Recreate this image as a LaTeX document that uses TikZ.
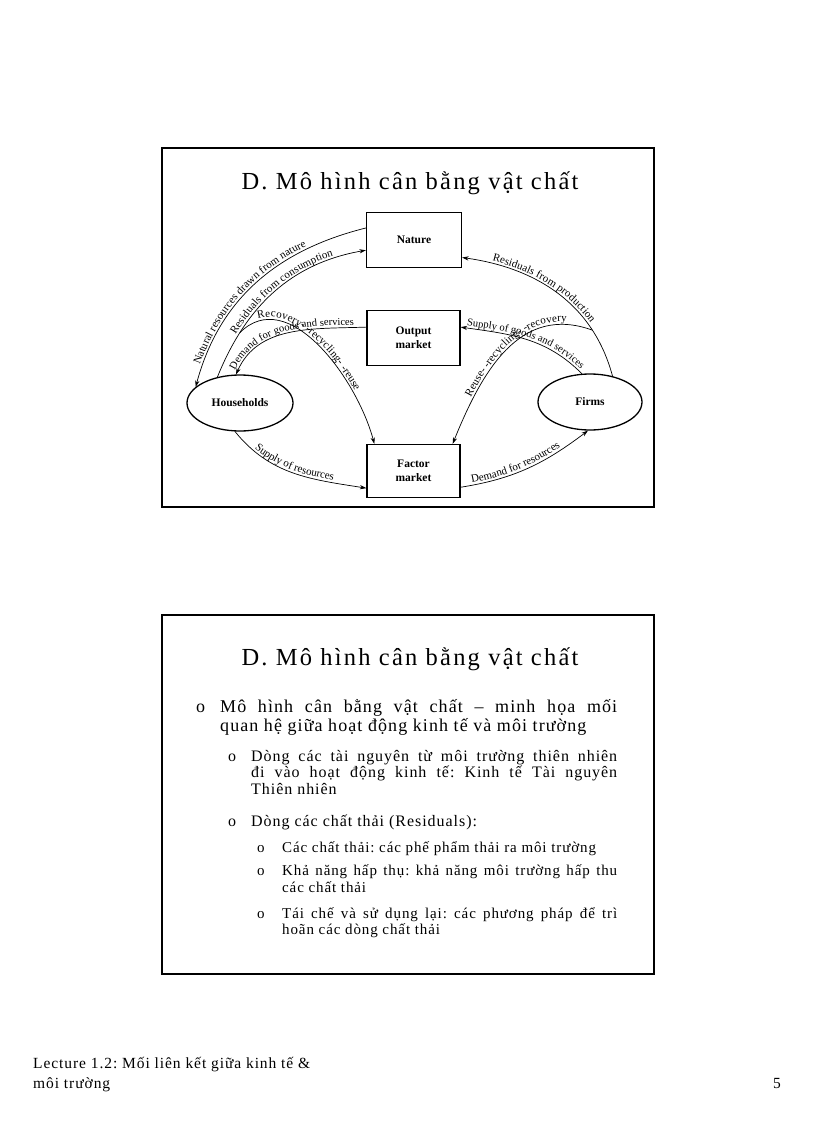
\documentclass[tikz,border=0pt]{standalone}
\usepackage{fontspec}
\setmainfont{Liberation Serif}
\usetikzlibrary{arrows.meta,shapes.geometric,decorations.text}
\newcommand\lblfont{\fontsize{11}{13}\selectfont}
\newcommand\lblsmall{\fontsize{10.5}{12}\selectfont}
\newcommand\titlefont{\fontsize{24.5}{28}\selectfont\addfontfeature{LetterSpace=9}}
\newcommand\lvA{\fontsize{18}{21}\selectfont\addfontfeature{LetterSpace=6}}
\newcommand\lvB{\fontsize{16}{19}\selectfont\addfontfeature{LetterSpace=6}}
\newcommand\lvC{\fontsize{15}{18}\selectfont\addfontfeature{LetterSpace=6}}
\newcommand\footfont{\fontsize{15.5}{18}\selectfont\addfontfeature{LetterSpace=6}}
\begin{document}
\frenchspacing
\begin{tikzpicture}[x=1pt,y=1pt,
  box/.style={draw, line width=1.3pt, minimum width=93pt, minimum height=55pt, inner sep=0pt, align=center, font=\fontsize{11.5}{14}\selectfont\bfseries},
  oval/.style={draw, line width=1.3pt, ellipse, minimum width=106pt, minimum height=56pt, inner sep=0pt, font=\fontsize{11.5}{14}\selectfont\bfseries},
  flow/.style={line width=0.7pt},
  tip/.tip={Stealth[length=6.5pt,width=4.2pt]},
  lbl/.style n args={3}{postaction={decorate}, decoration={text along path, text={|#1|#3}, text align={#2}, raise=2.5pt}},
  slide/.style={draw, line width=2pt},
  txt/.style={anchor=base west, inner sep=0pt},
]
\useasboundingbox (0,0) rectangle (816,-1123);
\fill[white] (0,0) rectangle (816,-1123);

% ---------- slide 1 ----------
\draw[slide] (161.5,-148) rectangle (653.5,-507);
\node[anchor=base, inner sep=0pt, font=\titlefont] (t1) at (410,-190) {D. Mô hình cân bằng vật chất};

\node[box, minimum width=95pt] (nature) at (414,-240) {Nature};
\node[box] (output) at (413.5,-338) {Output\\market};
\node[box, minimum height=53pt] (factor) at (413.5,-471) {Factor\\market};
\node[oval] (hh) at (240,-403) {Households};
\node[oval, minimum width=104pt] (firms) at (590,-402) {Firms};

% Natural resources drawn from nature
\draw[flow, tip-, lbl={\lblfont}{left, left indent=22pt}{Natural resources drawn from nature}]
  (hh.160) to[out=75, in=194] (nature.166);
% Residuals from consumption
\draw[flow, -tip, lbl={\lblfont}{left, left indent=46pt}{Residuals from consumption}]
  (hh.131) to[out=68, in=190] coordinate[pos=0.23] (rc) (nature.192);
% Demand for goods and services
\draw[flow, tip-, lbl={\lblsmall}{left, left indent=3pt}{Demand for goods and services}]
  (hh.98) to[out=66, in=182] (output.167);
% Recovery - recycling - reuse
\draw[flow, -tip, lbl={\lblfont}{left, left indent=22pt}{Recovery- -recycling- -reuse}]
  (rc) to[out=45, in=105] ([xshift=8pt]factor.north west);
% Residuals from production
\draw[flow, tip-, lbl={\lblfont}{left, left indent=30pt}{Residuals from production}]
  (nature.-20) to[out=-8, in=105] coordinate[pos=0.76] (rp) (firms.49);
% Supply of goods and services
\draw[flow, tip-, lbl={\lblsmall}{left, left indent=6pt}{Supply of goods and services}]
  (output.13) to[out=-8, in=135] (firms.106);
% Reuse - recycling - recovery
\draw[flow, tip-, lbl={\lblfont}{left, left indent=50pt}{Reuse- -recycling- -recovery}]
  ([xshift=-8pt]factor.north east) to[out=68, in=160, looseness=1.1] (rp);
% Supply of resources
\draw[flow, -tip, lbl={\lblfont}{left, left indent=26pt}{Supply of resources}]
  (hh.-100) to[out=-51, in=171] (factor.200);
% Demand for resources
\draw[flow, -tip, lbl={\lblfont}{left, left indent=12pt}{Demand for resources}]
  (factor.-19) to[out=9, in=217] (firms.-94);

% ---------- slide 2 ----------
\draw[slide] (161.5,-615) rectangle (653.5,-974);
\node[anchor=base, inner sep=0pt, font=\titlefont] (t2) at (410,-665) {D. Mô hình cân bằng vật chất};

\node[txt, font=\lvA] (b1) at (196,-712) {o};
\node[txt, font=\lvA] (l1a) at (220,-712) {\makebox[397pt][s]{Mô hình cân bằng vật chất – minh họa mối}};
\node[txt, font=\lvA] (l1b) at (220,-731) {quan hệ giữa hoạt động kinh tế và môi trường};

\node[txt, font=\lvB] (b2) at (228,-761) {o};
\node[txt, font=\lvB] (l2a) at (251,-761) {\makebox[366pt][s]{Dòng các tài nguyên từ môi trường thiên nhiên}};
\node[txt, font=\lvB] (l2b) at (251,-777) {\makebox[366pt][s]{đi vào hoạt động kinh tế: Kinh tế Tài nguyên}};
\node[txt, font=\lvB] (l2c) at (251,-794) {Thiên nhiên};

\node[txt, font=\lvB] (b3) at (228,-826) {o};
\node[txt, font=\lvB] (l3a) at (251,-826) {Dòng các chất thải (Residuals):};

\node[txt, font=\lvC] (b4) at (257,-852) {o};
\node[txt, font=\lvC] (l4a) at (282,-852) {Các chất thải: các phế phẩm thải ra môi trường};
\node[txt, font=\lvC] (b5) at (257,-875) {o};
\node[txt, font=\lvC] (l5a) at (282,-875) {\makebox[335pt][s]{Khả năng hấp thụ: khả năng môi trường hấp thu}};
\node[txt, font=\lvC] (l5b) at (282,-892) {các chất thải};
\node[txt, font=\lvC] (b6) at (257,-918) {o};
\node[txt, font=\lvC] (l6a) at (282,-918) {\makebox[335pt][s]{Tái chế và sử dụng lại: các phương pháp để trì}};
\node[txt, font=\lvC] (l6b) at (282,-934) {hoãn các dòng chất thải};

% ---------- footer ----------
\node[txt, font=\footfont] (f1) at (33,-1068) {Lecture 1.2: Mối liên kết giữa kinh tế \&};
\node[txt, font=\footfont] (f2) at (33,-1088) {môi trường};
\node[anchor=base east, inner sep=0pt, font=\footfont] (pg) at (781,-1088) {5};
\end{tikzpicture}
\end{document}
